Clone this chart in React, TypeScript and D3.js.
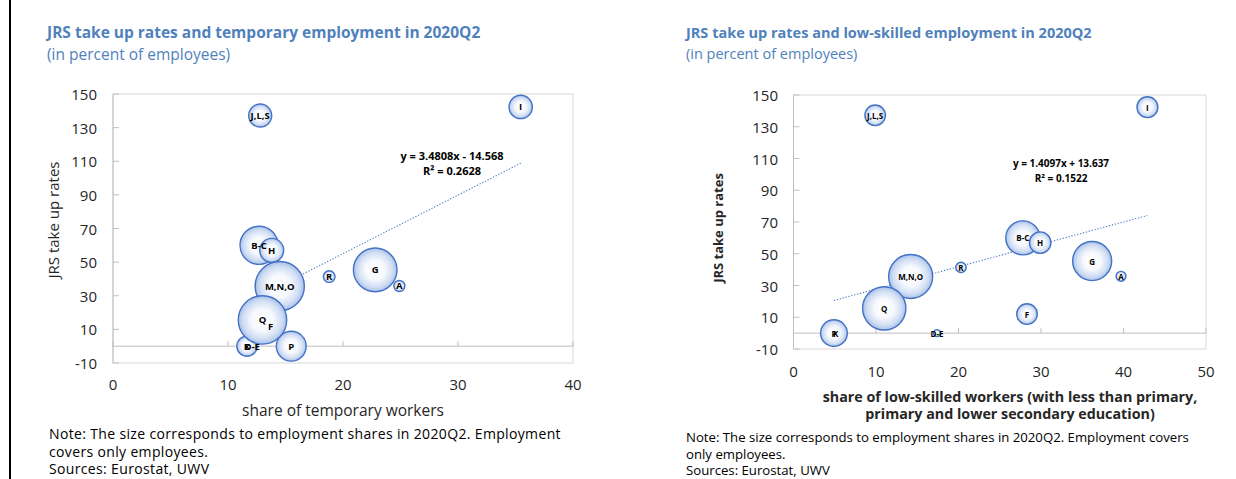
import React from "react";
import * as d3 from "d3";

// ---- data ----
const sectors = ["A", "B-C", "D-E", "F", "G", "H", "I", "J,L,S", "K", "M,N,O", "P", "Q", "R"];
const jrsTakeUp = [35.8, 60.0, 0, 12.0, 45.4, 57.0, 142.3, 137.2, 0, 35.7, 0, 15.6, 41.4];
const temporaryShare = [24.9, 12.7, 12.1, 13.7, 22.8, 13.8, 35.45, 12.8, 11.65, 14.5, 15.5, 13.0, 18.8];
const lowSkilledShare = [39.7, 27.8, 17.4, 28.3, 36.2, 29.9, 42.9, 9.9, 5.1, 14.2, 4.9, 11.0, 20.3];
const employmentShare = [0.8, 9.6, 0.4, 3.5, 12.6, 3.8, 3.6, 3.5, 2.7, 16.0, 5.9, 15.5, 0.9];

const yTicks = [-10, 10, 30, 50, 70, 90, 110, 130, 150];
const xTicksTemp = [0, 10, 20, 30, 40];
const xTicksLow = [0, 10, 20, 30, 40, 50];

const trendSlopes = [3.4808, 1.4097];
const trendIntercepts = [-14.568, 13.637];
const trendR2 = [0.2628, 0.1522];

const panelTitles = [
  "JRS take up rates and temporary employment in 2020Q2",
  "JRS take up rates and low-skilled employment in 2020Q2",
];
const subTitle = "(in percent of employees)";
const yTitle = "JRS take up rates";
const xTitleTemp = ["share of temporary workers"];
const xTitleLow = [
  "share of low-skilled workers (with less than primary,",
  "primary and lower secondary education)",
];
const notesTemp = [
  "Note: The size corresponds to employment shares in 2020Q2. Employment",
  "covers only employees.",
  "Sources: Eurostat, UWV",
];
const notesLow = [
  "Note: The size corresponds to employment shares in 2020Q2. Employment covers",
  "only employees.",
  "Sources: Eurostat, UWV",
];

const FONT = "'Open Sans', 'DejaVu Sans', sans-serif";
const TITLE_BLUE = "#4f81bd";
const BUBBLE_STROKE = "#4472c4";

type PanelProps = {
  idx: number;
  xs: number[];
  xDomain: [number, number];
  xTicks: number[];
  px: [number, number];
  py: [number, number]; // bottom, top
  rMax: number;
  labelSize: number;
  titleX: number;
  titleSize: number;
  titleY: number;
  subY: number;
  tickSize: number;
  yTitleX: number;
  yTitleY: number;
  yTitleBold: boolean;
  yTitleSize: number;
  yLabelX: number;
  xLabelY: number;
  xTitleLines: string[];
  xTitleX: number;
  xTitleY: number;
  xTitleBold: boolean;
  xTitleSize: number;
  xTitleGap: number;
  notes: string[];
  notesX: number;
  notesY: number;
  notesGap: number;
  notesSize: number;
  notesSpacing: number;
  eqX: number;
  eqY: number;
  eqSize: number;
};

function Panel(p: PanelProps) {
  const x = d3.scaleLinear().domain(p.xDomain).range(p.px);
  const y = d3.scaleLinear().domain([-10, 150]).range(p.py);
  const r = d3.scaleSqrt().domain([0, d3.max(employmentShare) as number]).range([0, p.rMax]);
  const gid = `bub${p.idx}`;
  const slope = trendSlopes[p.idx];
  const intercept = trendIntercepts[p.idx];
  const xMin = d3.min(p.xs) as number;
  const xMax = d3.max(p.xs) as number;
  const line = d3.line<number>().x((d) => x(d)).y((d) => y(slope * d + intercept));
  const eq = `y = ${slope.toFixed(4)}x ${intercept < 0 ? "-" : "+"} ${Math.abs(intercept).toFixed(3)}`;
  const r2 = `R² = ${trendR2[p.idx].toFixed(4)}`;
  const order = d3.range(sectors.length);
  return (
    <g>
      <defs>
        <radialGradient id={gid} cx="50%" cy="50%" r="50%">
          <stop offset="0%" stopColor="#ffffff" />
          <stop offset="45%" stopColor="#f7f9fd" />
          <stop offset="80%" stopColor="#d0ddf3" />
          <stop offset="100%" stopColor="#a9c1ea" />
        </radialGradient>
      </defs>
      <text x={p.titleX} y={p.titleY} fontFamily={FONT} fontWeight={700} fontSize={p.titleSize} fill={TITLE_BLUE}>
        {panelTitles[p.idx]}
      </text>
      <text x={p.titleX} y={p.subY} fontFamily={FONT} fontSize={p.titleSize} fill={TITLE_BLUE}>
        {subTitle}
      </text>
      {/* plot frame */}
      <rect
        x={p.px[0]}
        y={p.py[1]}
        width={p.px[1] - p.px[0]}
        height={p.py[0] - p.py[1]}
        fill="none"
        stroke="#d9d9d9"
        strokeWidth={1}
      />
      {/* y axis */}
      <line x1={p.px[0]} x2={p.px[0]} y1={p.py[0]} y2={p.py[1]} stroke="#bfbfbf" strokeWidth={1} />
      {yTicks.map((t) => (
        <g key={`yt${t}`}>
          <line x1={p.px[0]} x2={p.px[0] + 6} y1={y(t)} y2={y(t)} stroke="#bfbfbf" />
          <text
            x={p.yLabelX}
            y={y(t)}
            textAnchor="end"
            dominantBaseline="central"
            fontFamily={FONT}
            fontSize={p.tickSize}
            fill="#262626"
          >
            {t}
          </text>
        </g>
      ))}
      {/* zero axis */}
      <line x1={p.px[0]} x2={p.px[1]} y1={y(0)} y2={y(0)} stroke="#bfbfbf" strokeWidth={1} />
      {p.xTicks.map((t) => (
        <g key={`xt${t}`}>
          <line x1={x(t)} x2={x(t)} y1={y(0)} y2={y(0) - 5} stroke="#bfbfbf" />
          <text
            x={x(t)}
            y={p.xLabelY}
            textAnchor="middle"
            dominantBaseline="central"
            fontFamily={FONT}
            fontSize={p.tickSize}
            fill="#262626"
          >
            {t}
          </text>
        </g>
      ))}
      {/* y title */}
      <text
        transform={`translate(${p.yTitleX},${p.yTitleY}) rotate(-90)`}
        textAnchor="middle"
        dominantBaseline="central"
        fontFamily={FONT}
        fontWeight={p.yTitleBold ? 700 : 400}
        fontSize={p.yTitleSize}
        fill="#262626"
      >
        {yTitle}
      </text>
      {/* x title */}
      {p.xTitleLines.map((l, i) => (
        <text
          key={`xl${i}`}
          x={p.xTitleX}
          y={p.xTitleY + i * p.xTitleGap}
          textAnchor="middle"
          dominantBaseline="central"
          fontFamily={FONT}
          fontWeight={p.xTitleBold ? 700 : 400}
          fontSize={p.xTitleSize}
          fill="#262626"
        >
          {l}
        </text>
      ))}
      {/* trend line */}
      <path d={line([xMin, xMax]) || ""} fill="none" stroke={BUBBLE_STROKE} strokeWidth={1.1} strokeDasharray="1.2 1.8" />
      {/* bubbles */}
      {order.map((i) => (
        <circle
          key={`c${i}`}
          cx={x(p.xs[i])}
          cy={y(jrsTakeUp[i])}
          r={r(employmentShare[i])}
          fill={`url(#${gid})`}
          stroke={BUBBLE_STROKE}
          strokeWidth={1.4}
        />
      ))}
      {order.map((i) => (
        <text
          key={`l${i}`}
          x={x(p.xs[i])}
          y={y(jrsTakeUp[i])}
          textAnchor="middle"
          dominantBaseline="central"
          fontFamily={FONT}
          fontWeight={700}
          fontSize={p.labelSize}
          fill="#000"
        >
          {sectors[i]}
        </text>
      ))}
      {/* equation */}
      <text x={p.eqX} y={p.eqY} textAnchor="middle" dominantBaseline="central" fontFamily={FONT} fontWeight={700} fontSize={p.eqSize} fill="#000">
        {eq}
      </text>
      <text x={p.eqX} y={p.eqY + 15} textAnchor="middle" dominantBaseline="central" fontFamily={FONT} fontWeight={700} fontSize={p.eqSize} fill="#000">
        {r2}
      </text>
      {/* notes */}
      {p.notes.map((n, i) => (
        <text
          key={`n${i}`}
          x={p.notesX}
          y={p.notesY + i * p.notesGap}
          dominantBaseline="central"
          fontFamily={FONT}
          fontSize={p.notesSize}
          letterSpacing={p.notesSpacing}
          fill="#000"
        >
          {n}
        </text>
      ))}
    </g>
  );
}

export default function App() {
  return (
    <svg
      width={1236}
      height={479}
      style={{ position: "absolute", left: 0, top: 0, background: "#fff" }}
    >
      <rect x={0} y={0} width={1236} height={479} fill="#fff" />
      <rect x={9} y={0} width={2} height={479} fill="#000" />
      <Panel
        idx={0}
        xs={temporaryShare}
        xDomain={[0, 40]}
        xTicks={xTicksTemp}
        px={[113, 573]}
        py={[363, 94]}
        rMax={24.6}
        labelSize={9.5}
        titleX={47}
        titleSize={15.5}
        titleY={37.5}
        subY={59.5}
        tickSize={15}
        yTitleX={53}
        yTitleY={220}
        yTitleBold={false}
        yTitleSize={15}
        yLabelX={97}
        xLabelY={384}
        xTitleLines={xTitleTemp}
        xTitleX={343}
        xTitleY={410}
        xTitleBold={false}
        xTitleSize={15.5}
        xTitleGap={17}
        notes={notesTemp}
        notesX={49}
        notesY={433.5}
        notesGap={17.5}
        notesSize={14}
        notesSpacing={0.35}
        eqX={452}
        eqY={155}
        eqSize={11}
      />
      <Panel
        idx={1}
        xs={lowSkilledShare}
        xDomain={[0, 50]}
        xTicks={xTicksLow}
        px={[793.5, 1206]}
        py={[349, 95]}
        rMax={22}
        labelSize={8}
        titleX={686}
        titleSize={14.5}
        titleY={37.5}
        subY={58.5}
        tickSize={15}
        yTitleX={718}
        yTitleY={228}
        yTitleBold={true}
        yTitleSize={13}
        yLabelX={778}
        xLabelY={371}
        xTitleLines={xTitleLow}
        xTitleX={1010}
        xTitleY={396}
        xTitleBold={true}
        xTitleSize={14.3}
        xTitleGap={17}
        notes={notesLow}
        notesX={686}
        notesY={437}
        notesGap={16.5}
        notesSize={13.2}
        notesSpacing={0}
        eqX={1061}
        eqY={163}
        eqSize={10}
      />
    </svg>
  );
}
